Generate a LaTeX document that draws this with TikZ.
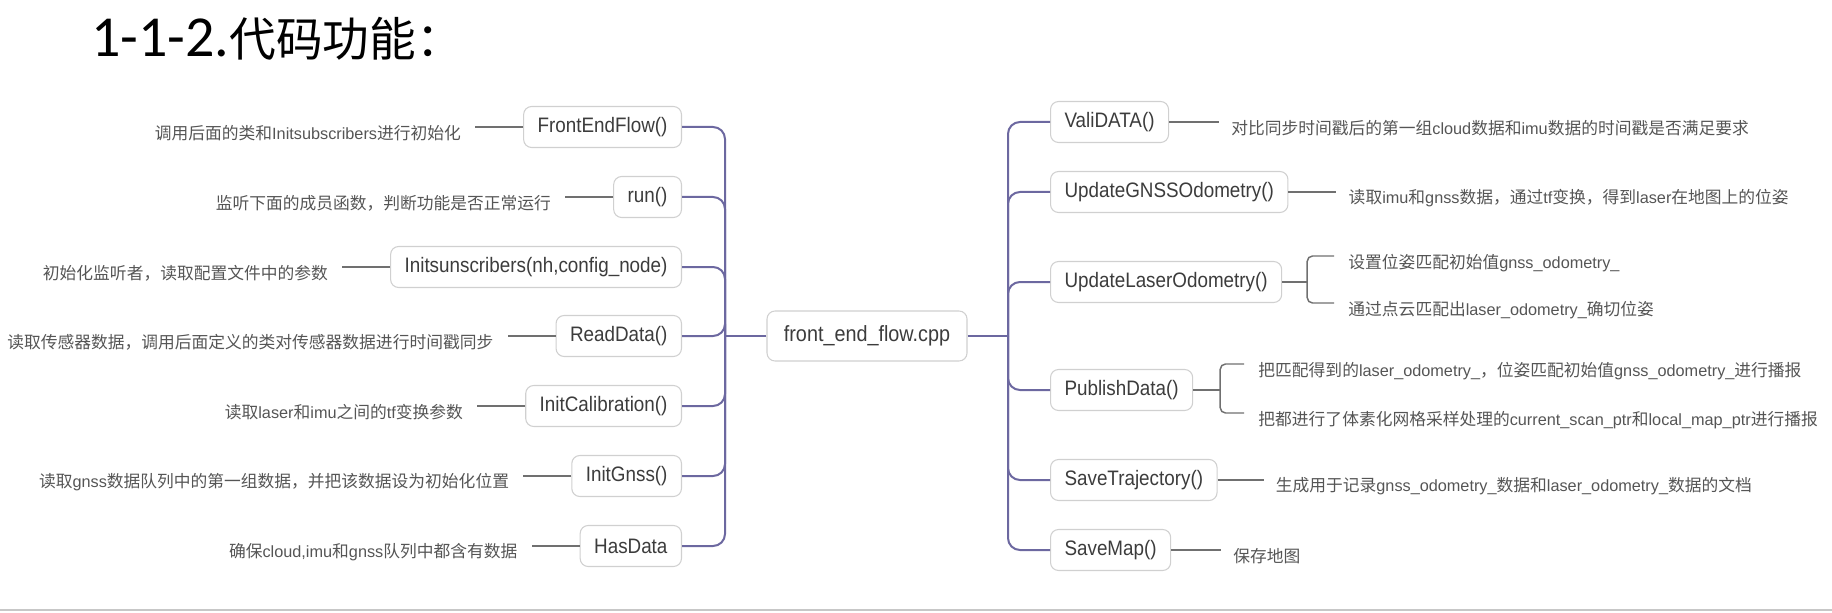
\documentclass[tikz,border=0pt]{standalone}
\usepackage{fontspec}
\setmainfont{Liberation Sans}
\newfontfamily\cjkfont[Scale=1.03]{Noto Sans CJK SC}
\newfontfamily\boxfont[FakeStretch=0.9]{Liberation Sans}
\newfontfamily\titlenum{Carlito}
\newcommand\zh[1]{{\cjkfont #1}}
\usetikzlibrary{calc}

\definecolor{treeline}{RGB}{108,104,160}
\definecolor{noteline}{RGB}{112,112,112}
\definecolor{boxedge}{RGB}{208,208,208}
\definecolor{fntext}{RGB}{60,60,60}
\definecolor{notetext}{RGB}{85,85,85}

\begin{document}
\begin{tikzpicture}[x=0.75pt, y=-0.75pt,
    fn/.style={draw=boxedge, fill=white, line width=0.8pt, rounded corners=6pt,
      minimum height=30.75pt, inner xsep=10.5pt, inner ysep=0pt, text=fntext,
      font=\boxfont\fontsize{15.7}{18}\selectfont},
    root/.style={fn, minimum width=150pt, minimum height=37.5pt,
      font=\boxfont\fontsize{16.5}{19}\selectfont},
    note/.style={inner sep=0pt, text=notetext, font=\fontsize{12.2}{14}\selectfont},
    noteln/.style={draw=noteline, line width=1.1pt},
    tree/.style={draw=treeline, line width=1.5pt, rounded corners=9pt}]
    \def \lx {725}  % x of left spine
    \def \rx {1008} % x of right spine

    \useasboundingbox (0,0) rectangle (1832,613);

    % Title
    \node[anchor=west, inner sep=0pt, font=\fontsize{43.5}{48}\selectfont] (title) at (91,39)
      {\titlenum 1-1-2.{\fontsize{34}{40}\selectfont\zh{代码功能：}}};

    % Root
    \node[root] (cpp) at (867,336) {front\_end\_flow.cpp};
    \coordinate (lj) at (\lx,336);
    \coordinate (rj) at (\rx,336);

    % Left functions
    \node[fn, anchor=east] (ctor)  at (682,127) {FrontEndFlow()};
    \node[fn, anchor=east] (run)   at (682,197) {run()};
    \node[fn, anchor=east] (subs)  at (682,267) {Initsunscribers(nh,config\_node)};
    \node[fn, anchor=east] (read)  at (682,336) {ReadData()};
    \node[fn, anchor=east] (calib) at (682,406) {InitCalibration()};
    \node[fn, anchor=east] (gnss)  at (682,476) {InitGnss()};
    \node[fn, anchor=east] (has)   at (682,546) {HasData};

    % Right functions
    \node[fn, anchor=west] (vali)  at (1050,122) {ValiDATA()};
    \node[fn, anchor=west] (odom)  at (1050,192) {UpdateGNSSOdometry()};
    \node[fn, anchor=west] (laser) at (1050,282) {UpdateLaserOdometry()};
    \node[fn, anchor=west] (pub)   at (1050,390) {PublishData()};
    \node[fn, anchor=west] (save)  at (1050,480) {SaveTrajectory()};
    \node[fn, anchor=west] (map)   at (1050,550) {SaveMap()};

    % Left notes
    \node[note, anchor=east] (ctor-n) at ($(ctor.west)+(-62,6)$)
      {\zh{调用后面的类和}Initsubscribers\zh{进行初始化}};
    \node[note, anchor=east] (run-n) at ($(run.west)+(-62,6)$)
      {\zh{监听下面的成员函数，判断功能是否正常运行}};
    \node[note, anchor=east] (subs-n) at ($(subs.west)+(-62,6)$)
      {\zh{初始化监听者，读取配置文件中的参数}};
    \node[note, anchor=east] (read-n) at ($(read.west)+(-62,6)$)
      {\zh{读取传感器数据，调用后面定义的类对传感器数据进行时间戳同步}};
    \node[note, anchor=east] (calib-n) at ($(calib.west)+(-62,6)$)
      {\zh{读取}laser\zh{和}imu\zh{之间的}tf\zh{变换参数}};
    \node[note, anchor=east] (gnss-n) at ($(gnss.west)+(-62,6)$)
      {\zh{读取}gnss\zh{数据队列中的第一组数据，并把该数据设为初始化位置}};
    \node[note, anchor=east] (has-n) at ($(has.west)+(-62,6)$)
      {\zh{确保}cloud,imu\zh{和}gnss\zh{队列中都含有数据}};

    % Right notes
    \node[note, anchor=west] (vali-n) at ($(vali.east)+(62,6)$)
      {\zh{对比同步时间戳后的第一组}cloud\zh{数据和}imu\zh{数据的时间戳是否满足要求}};
    \node[note, anchor=west] (odom-n) at ($(odom.east)+(60,6)$)
      {\zh{读取}imu\zh{和}gnss\zh{数据，通过}tf\zh{变换，得到}laser\zh{在地图上的位姿}};
    \node[note, anchor=west] (laser-a) at ($(laser.east)+(66,-19)$)
      {\zh{设置位姿匹配初始值}gnss\_odometry\_};
    \node[note, anchor=west] (laser-b) at ($(laser.east)+(66,28)$)
      {\zh{通过点云匹配出}laser\_odometry\_\zh{确切位姿}};
    \node[note, anchor=west] (pub-a) at ($(pub.east)+(65,-19)$)
      {\zh{把匹配得到的}laser\_odometry\_\zh{，位姿匹配初始值}gnss\_odometry\_\zh{进行播报}};
    \node[note, anchor=west] (pub-b) at ($(pub.east)+(65,30)$)
      {\zh{把都进行了体素化网格采样处理的}current\_scan\_ptr\zh{和}local\_map\_ptr\zh{进行播报}};
    \node[note, anchor=west] (save-n) at ($(save.east)+(58,6)$)
      {\zh{生成用于记录}gnss\_odometry\_\zh{数据和}laser\_odometry\_\zh{数据的文档}};
    \node[note, anchor=west] (map-n) at ($(map.east)+(62,6)$) {\zh{保存地图}};

    % Tree branches
    \draw[tree] (cpp.west) -- (lj);
    \draw[tree] (cpp.east) -- (rj);
    \foreach \f in {ctor,run,subs,read,calib,gnss,has}
      \draw[tree] (lj) |- (\f.east);
    \foreach \f in {vali,odom,laser,pub,save,map}
      \draw[tree] (rj) |- (\f.west);

    % Note lines
    \foreach \f in {ctor,run,subs,read,calib,gnss,has}
      \draw[noteln] (\f.west) -- ($(\f.west -| \f-n.east)+(14,0)$);
    \foreach \f in {vali,odom,save,map}
      \draw[noteln] (\f.east) -- ($(\f.east -| \f-n.west)+(-12,0)$);

    % Brackets
    \coordinate (lb) at ($(laser.east)+(25,0)$);
    \coordinate (pb) at ($(pub.east)+(27,0)$);
    \draw[noteln] (laser.east) -- (lb);
    \draw[noteln, rounded corners=4pt] (lb) |- ($(laser-a.west)+(-14,-7)$);
    \draw[noteln, rounded corners=4pt] (lb) |- ($(laser-b.west)+(-14,-7)$);
    \draw[noteln] (pub.east) -- (pb);
    \draw[noteln, rounded corners=4pt] (pb) |- ($(pub-a.west)+(-14,-7)$);
    \draw[noteln, rounded corners=4pt] (pb) |- ($(pub-b.west)+(-14,-7)$);

    % Bottom rule
    \draw[draw=black!22, line width=2.2pt] (0,610) -- (1832,610);
  \end{tikzpicture}
\end{document}
